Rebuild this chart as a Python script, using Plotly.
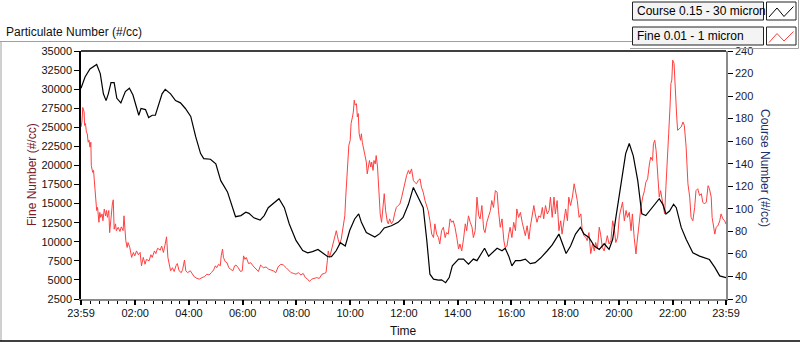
import datetime as dt
import plotly.graph_objects as go

# ---------------- data ----------------
start_label = "2024-01-01 23:59"

coarse_minutes = [0, 9, 20, 35, 43, 50, 56, 61, 67, 74, 80, 89, 99, 108, 116, 123, 129, 134, 144, 151,
                  159, 166, 173, 181, 188, 200, 211, 222, 233, 245, 256, 267, 274, 289, 301, 312, 327, 334,
                  345, 357, 368, 375, 386, 400, 409, 418, 430, 442, 454, 465, 480, 495, 506, 517, 529, 540,
                  551, 559, 570, 579, 590, 600, 611, 620, 626, 637, 656, 667, 677, 693, 708, 719, 731, 742,
                  749, 759, 764, 772, 779, 787, 798, 805, 814, 822, 829, 843, 854, 865, 876, 884, 891, 901,
                  910, 917, 929, 940, 947, 955, 962, 970, 981, 992, 1003, 1014, 1026, 1041, 1052, 1067, 1074,
                  1083, 1093, 1104, 1115, 1123, 1134, 1146, 1157, 1168, 1179, 1187, 1194, 1205, 1216, 1224,
                  1233, 1243, 1252, 1261, 1269, 1280, 1291, 1299, 1306, 1314, 1323, 1329, 1340, 1351, 1366,
                  1381, 1403, 1415, 1426, 1440]
coarse_values = [207, 217, 224, 228, 220, 202, 196, 202, 212, 212, 198, 194, 204, 207, 201, 192, 183, 189, 188, 181,
                 183, 183, 192, 202, 206, 202, 196, 194, 189, 182, 164, 149, 144.5, 144, 140, 125, 115, 107,
                 93, 94, 97, 96, 92, 90, 94, 101, 105, 109, 101, 86.5, 72, 63, 61, 62, 64, 61,
                 57.5, 57.5, 63, 70, 67, 81, 91, 95.5, 88, 79, 75, 78, 83, 85, 88, 92.4, 104, 119,
                 113, 104, 101, 72, 42, 37.6, 36.7, 37, 34.5, 39, 49.4, 55.4, 55.4, 51, 55.4, 54, 58.3, 65,
                 58, 60.4, 65, 62.8, 65, 58, 49.4, 54, 54, 55.4, 51.4, 52.3, 56.3, 62.8, 68, 77.6, 70,
                 60.4, 67, 77.6, 83.5, 77.6, 74.6, 67, 64, 69, 64, 73, 92, 119, 149, 158,
                 147, 125, 95.5, 94, 98, 104, 109, 104, 95.5, 98, 104, 101, 83.5, 73, 61,
                 58, 55, 48, 40.5, 39]

fine_minutes = [0, 2, 4, 7, 8, 10, 12, 14, 16, 18, 20, 22, 23, 26, 28, 31, 33, 35, 37, 40,
                42, 44, 47, 49, 52, 55, 57, 59, 62, 64, 67, 70, 72, 74, 77, 79, 83, 87, 90, 94,
                96, 98, 100, 103, 105, 109, 113, 117, 120, 124, 128, 132, 135, 139, 143, 146, 152, 156, 159, 164,
                167, 171, 177, 180, 184, 188, 191, 194, 197, 200, 204, 208, 212, 215, 219, 224, 227, 231, 234, 238,
                244, 249, 253, 259, 264, 270, 276, 281, 286, 291, 296, 300, 303, 307, 311, 313, 316, 318, 322, 326,
                330, 334, 339, 343, 346, 351, 356, 360, 363, 366, 369, 374, 379, 384, 390, 396, 401, 407, 413, 419,
                424, 429, 435, 440, 446, 452, 458, 464, 469, 475, 480, 485, 491, 496, 501, 506, 510, 515, 521, 526,
                532, 538, 543, 547, 550, 552, 555, 559, 562, 566, 570, 574, 577, 581, 585, 589, 591, 594, 596, 598,
                601, 603, 606, 608, 610, 612, 615, 617, 619, 621, 624, 626, 628, 631, 634, 637, 639, 642, 644, 647,
                649, 652, 654, 657, 659, 662, 664, 666, 668, 671, 673, 675, 677, 680, 682, 684, 686, 689, 693, 697,
                700, 704, 708, 712, 716, 719, 723, 727, 731, 734, 738, 742, 745, 749, 753, 757, 760, 764, 768, 772,
                775, 779, 783, 787, 790, 794, 798, 801, 805, 809, 813, 816, 820, 824, 828, 831, 835, 839, 843, 846,
                850, 854, 858, 861, 865, 869, 873, 876, 880, 884, 888, 891, 895, 899, 902, 906, 910, 914, 917, 921,
                925, 929, 932, 936, 940, 944, 947, 951, 955, 958, 962, 966, 970, 973, 977, 981, 985, 989, 992, 996,
                1000, 1003, 1007, 1011, 1014, 1018, 1022, 1026, 1030, 1033, 1037, 1041, 1045, 1048, 1052, 1056, 1059, 1063, 1067, 1071,
                1074, 1078, 1082, 1086, 1089, 1093, 1097, 1101, 1104, 1108, 1112, 1116, 1119, 1123, 1127, 1130, 1134, 1138, 1142, 1146,
                1149, 1153, 1157, 1160, 1164, 1168, 1172, 1175, 1179, 1183, 1187, 1190, 1194, 1198, 1202, 1205, 1209, 1213, 1217, 1220,
                1224, 1228, 1231, 1235, 1239, 1241, 1244, 1246, 1250, 1254, 1258, 1261, 1265, 1269, 1272, 1276, 1278, 1281, 1284, 1286,
                1289, 1291, 1294, 1297, 1299, 1303, 1306, 1310, 1312, 1315, 1317, 1319, 1321, 1324, 1326, 1328, 1330, 1332, 1336, 1340,
                1344, 1347, 1351, 1355, 1359, 1362, 1366, 1370, 1373, 1377, 1381, 1385, 1388, 1392, 1396, 1400, 1403, 1407, 1409, 1412,
                1415, 1418, 1422, 1426, 1429, 1433, 1437, 1440]
fine_values = [25050, 25700, 27600, 27000, 25250, 25500, 24400, 24150, 23050, 23300, 22400, 23050, 20000, 19100, 19350, 17600, 15600, 14100, 14500, 12550,
               13850, 13200, 13650, 12750, 14300, 13400, 14100, 13200, 14100, 11200, 13400, 14950, 15500, 11650, 12350, 11450, 11900, 11350, 11950, 11450,
               13400, 11200, 10150, 9250, 9900, 9250, 7950, 8600, 8150, 8800, 8300, 8600, 6850, 7950, 7050, 7700, 7500, 8300, 7950, 8800,
               8450, 9150, 8900, 9450, 8600, 9700, 10650, 7950, 6850, 6200, 6600, 6100, 6850, 7150, 6200, 5950, 6400, 7600, 6200, 5950,
               6200, 5750, 5400, 5200, 5100, 5300, 5450, 5750, 5650, 5950, 6300, 6850, 6600, 7050, 6850, 8150, 9050, 7950, 7400, 7250,
               6600, 6400, 6200, 6850, 6950, 6600, 6100, 6200, 8150, 7700, 7950, 7150, 7250, 6850, 6400, 6100, 6950, 6600, 6700, 6400,
               6300, 6200, 5950, 6700, 7050, 6950, 6600, 6300, 5950, 5850, 5750, 5950, 5650, 5850, 5300, 5100, 4800, 5100, 5200, 5300,
               5200, 5750, 5850, 5950, 7500, 8800, 7950, 8800, 9450, 10550, 11450, 10350, 9700, 10350, 11900, 13400, 15850, 18450, 21300, 22650,
               23300, 25500, 26350, 27000, 28550, 27900, 28100, 26350, 26800, 24150, 23300, 24150, 23050, 22200, 21550, 20450, 18900, 20200, 20650, 19800,
               20450, 19350, 20650, 20200, 21300, 19800, 17350, 15400, 13650, 12550, 14100, 15400, 16300, 14100, 13000, 12550, 12350, 13000, 12350, 12750,
               13650, 14500, 14750, 14950, 15850, 16700, 17800, 18700, 19350, 18900, 19550, 18050, 17800, 17600, 18050, 18250, 17150, 16500, 15400, 14750,
               14100, 12750, 11000, 10550, 12350, 11000, 10550, 9700, 11450, 11900, 10550, 11200, 11000, 13000, 12550, 12750, 11900, 10550, 9050, 9700,
               8800, 10350, 12350, 11450, 13400, 12550, 11900, 10550, 11450, 15850, 13400, 13000, 14750, 11650, 11200, 12550, 13200, 14100, 15400, 14500,
               16700, 16500, 14100, 11900, 13000, 10150, 9250, 9450, 11000, 11900, 10550, 12550, 11450, 14300, 13200, 13850, 12550, 11650, 10800, 12100,
               10350, 11900, 13200, 14750, 13650, 12550, 13400, 13200, 14500, 13000, 14750, 13650, 14100, 15850, 13200, 15850, 13650, 15400, 11450, 12750,
               11000, 12550, 14300, 12750, 15850, 14750, 15850, 17600, 16700, 15400, 13200, 13650, 11450, 10800, 10550, 10150, 11200, 8450, 9700, 8800,
               9900, 9050, 11900, 11000, 9250, 8800, 9900, 10800, 9700, 10150, 12750, 11900, 9900, 10550, 13400, 14300, 15200, 12750, 14100, 13200,
               13850, 11450, 13650, 10550, 8400, 9700, 11450, 13000, 14500, 15850, 16700, 17800, 18250, 20200, 21100, 20650, 22850, 23300, 21950, 20200,
               17150, 15850, 16700, 15600, 14950, 13650, 17350, 21100, 24150, 27650, 30750, 31200, 33800, 33400, 30750, 27650, 26350, 24600, 24850, 25050,
               25700, 25250, 22400, 17600, 15850, 13200, 12750, 14500, 16700, 16950, 16050, 16300, 15200, 14950, 15200, 17350, 16950, 15850, 13200, 12100,
               11000, 11900, 12100, 12750, 13650, 13000, 12750, 12300]

x_tick_minutes = [0, 121, 241, 361, 481, 601, 721, 841, 961, 1081, 1201, 1321, 1440]
x_tick_labels = ["23:59", "02:00", "04:00", "06:00", "08:00", "10:00", "12:00",
                 "14:00", "16:00", "18:00", "20:00", "22:00", "23:59"]

series_names = ["Course 0.15 - 30 micron", "Fine 0.01 - 1 micron"]

# ---------------- helpers ----------------
t0 = dt.datetime.strptime(start_label, "%Y-%m-%d %H:%M")
t_end = t0 + dt.timedelta(minutes=1440)
def to_time(mins):
    return [t0 + dt.timedelta(minutes=m) for m in mins]

# every tick: the 20-minute clock grid plus the two 23:59 ends; labels only on majors
grid_minutes = sorted(set([1 + 20 * k for k in range(72)] + x_tick_minutes))
grid_labels = [x_tick_labels[x_tick_minutes.index(m)] if m in x_tick_minutes else "" for m in grid_minutes]

W, H = 800, 342
L, R, T, B = 81, 74, 51, 43
PW, PH = W - L - R, H - T - B
def px(x):
    return (x - L) / PW
def py(y):
    return (H - B - y) / PH

FONT = "Liberation Sans"
RED = "#ff4040"

fig = go.Figure()
fig.add_trace(go.Scatter(x=to_time(fine_minutes), y=fine_values, mode="lines",
                         line=dict(color=RED, width=1), name=series_names[1], yaxis="y"))
fig.add_trace(go.Scatter(x=to_time(coarse_minutes), y=coarse_values, mode="lines",
                         line=dict(color="black", width=1.2), name=series_names[0], yaxis="y2"))
# hidden helper trace that activates the axis carrying the longer major tick marks
fig.add_trace(go.Scatter(x=[t0, t_end], y=[-1e9, -1e9], xaxis="x2", yaxis="y",
                         mode="lines", line=dict(width=0), hoverinfo="skip", showlegend=False))

shapes = []
shapes.append(dict(type="line", xref="paper", yref="paper", x0=0, x1=1, y0=1, y1=1,
                   line=dict(color="black", width=1.5)))
shapes.append(dict(type="line", xref="paper", yref="paper", x0=px(0), x1=px(632), y0=py(41.5), y1=py(41.5),
                   line=dict(color="#a0a0a0", width=1)))
shapes.append(dict(type="line", xref="paper", yref="paper", x0=px(1), x1=px(1), y0=py(41.5), y1=py(341),
                   line=dict(color="#a0a0a0", width=1)))
shapes.append(dict(type="line", xref="paper", yref="paper", x0=px(0), x1=px(800), y0=py(341), y1=py(341),
                   line=dict(color="black", width=1.5)))
shapes.append(dict(type="line", xref="paper", yref="paper", x0=px(630), x1=px(798.5), y0=py(48.5), y1=py(48.5),
                   line=dict(color="#a0a0a0", width=1)))
shapes.append(dict(type="line", xref="paper", yref="paper", x0=px(798.5), x1=px(798.5), y0=py(0), y1=py(48.5),
                   line=dict(color="#a0a0a0", width=1)))
for (y0, y1) in [(2, 20), (27, 45)]:
    shapes.append(dict(type="rect", xref="paper", yref="paper", x0=px(632.5), x1=px(763.5), y0=py(y1), y1=py(y0),
                       line=dict(color="#222", width=1), fillcolor="#f4f4f4", layer="above"))
    shapes.append(dict(type="rect", xref="paper", yref="paper", x0=px(766.5), x1=px(796), y0=py(y1), y1=py(y0),
                       line=dict(color="#222", width=1), fillcolor="white", layer="above"))
def zig(pts):
    return "M " + " L ".join(f"{px(a):.5f},{py(b):.5f}" for a, b in pts)
shapes.append(dict(type="path", xref="paper", yref="paper", layer="above",
                   path=zig([(769, 17), (777, 8), (784, 16.5), (793.5, 6.5)]),
                   line=dict(color="black", width=1)))
shapes.append(dict(type="path", xref="paper", yref="paper", layer="above",
                   path=zig([(769, 42.5), (777, 33.5), (784, 41), (793.5, 31.5)]),
                   line=dict(color=RED, width=1)))

annotations = [
    dict(text="Particulate Number (#/cc)", xref="paper", yref="paper", x=px(4), y=py(31.5),
         xanchor="left", yanchor="middle", showarrow=False, font=dict(family=FONT, size=12, color="#111")),
    dict(text="Time", xref="paper", yref="paper", x=px(403), y=py(330.5),
         xanchor="center", yanchor="middle", showarrow=False, font=dict(family=FONT, size=12, color="#111")),
    dict(text="Fine Number (#/cc)", xref="paper", yref="paper", x=px(32), y=py(175),
         xanchor="center", yanchor="middle", textangle=-90, showarrow=False,
         font=dict(family=FONT, size=12, color="#7a1a2a")),
    dict(text="Course Number (#/cc)", xref="paper", yref="paper", x=px(765), y=py(168),
         xanchor="center", yanchor="middle", textangle=90, showarrow=False,
         font=dict(family=FONT, size=12, color="#1c2f6e")),
    dict(text=series_names[0], xref="paper", yref="paper", x=px(635), y=py(11),
         xanchor="left", yanchor="middle", showarrow=False, font=dict(family=FONT, size=12, color="#000")),
    dict(text=series_names[1], xref="paper", yref="paper", x=px(635), y=py(36),
         xanchor="left", yanchor="middle", showarrow=False, font=dict(family=FONT, size=12, color="#000")),
]

fig.update_layout(
    width=W, height=H,
    margin=dict(l=L, r=R, t=T, b=B, pad=0),
    paper_bgcolor="white", plot_bgcolor="white",
    showlegend=False,
    font=dict(family=FONT, size=11, color="#111"),
    xaxis=dict(type="date", range=[t0, t_end],
               tickmode="array", tickvals=to_time(grid_minutes), ticktext=grid_labels,
               ticks="outside", ticklen=3, tickcolor="black", tickwidth=1,
               showline=True, linecolor="#8a8a8a", linewidth=1.5, showgrid=False, zeroline=False,
               tickfont=dict(family=FONT, size=11, color="#111")),
    xaxis2=dict(type="date", range=[t0, t_end], overlaying="x", anchor="y", side="bottom",
                tickmode="array", tickvals=to_time(x_tick_minutes), showticklabels=False,
                ticks="outside", ticklen=5, tickcolor="black", tickwidth=1.5,
                showline=False, showgrid=False, zeroline=False),
    yaxis=dict(range=[2500, 35000], dtick=2500, tick0=2500, ticks="outside", ticklen=5,
               tickformat="d", tickcolor="black", showline=True, linecolor="black", linewidth=1.5,
               showgrid=False, zeroline=False, tickfont=dict(family=FONT, size=11, color="#111")),
    yaxis2=dict(range=[20, 240], dtick=20, tick0=20, overlaying="y", side="right",
                ticks="outside", ticklen=5, tickcolor="black", showline=True, linecolor="#8a8a8a",
                linewidth=1.5, showgrid=False, zeroline=False,
                tickfont=dict(family=FONT, size=11, color="#1a1a3a")),
    shapes=shapes, annotations=annotations,
)

fig.write_html("out.html", config={"displayModeBar": False},
               post_script="document.body.style.margin='0';document.body.style.padding='0';"
                           "document.body.style.overflow='hidden';")
